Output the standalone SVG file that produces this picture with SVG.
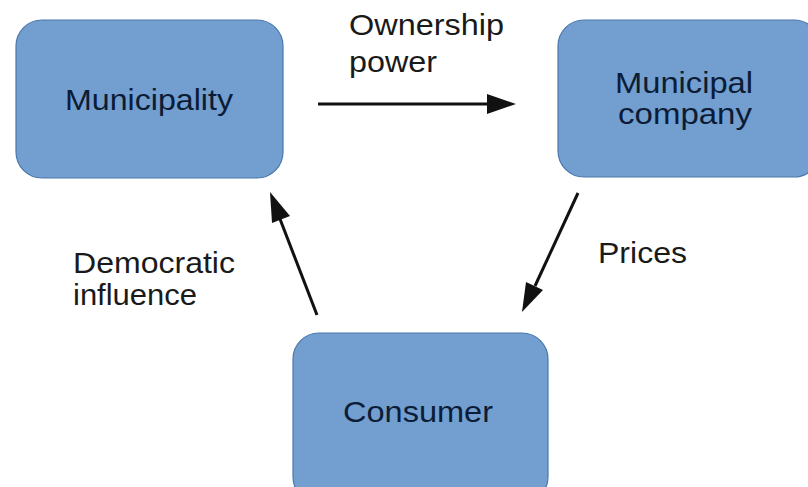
<svg xmlns="http://www.w3.org/2000/svg" width="808" height="487" viewBox="0 0 808 487">
<style>
.box{fill:#729fcf;stroke:#4a77ad;stroke-width:1.2}
.nt{font-family:"Liberation Sans",Arial,sans-serif;font-size:30px;fill:#0c1c36}
.lt{font-family:"Liberation Sans",Arial,sans-serif;font-size:29px;fill:#1a1a1a}
.conn{stroke:#111;stroke-width:3;fill:none}
</style>
<rect width="808" height="487" fill="#ffffff"/>
<g id="municipality">
<rect class="box" x="16" y="20" width="267" height="158" rx="26"/>
<text class="nt" x="65" y="110" textLength="168" lengthAdjust="spacingAndGlyphs">Municipality</text>
</g>
<g id="municipal-company">
<rect class="box" x="558" y="20" width="262" height="157" rx="26"/>
<text class="nt" x="615" y="93" textLength="138" lengthAdjust="spacingAndGlyphs">Municipal</text>
<text class="nt" x="618" y="124" textLength="134" lengthAdjust="spacingAndGlyphs">company</text>
</g>
<g id="consumer">
<rect class="box" x="293" y="333" width="255" height="170" rx="26"/>
<text class="nt" x="343" y="422" textLength="150" lengthAdjust="spacingAndGlyphs">Consumer</text>
</g>
<g id="connectors">
<path class="conn" d="M318,104 L490,104"/>
<path d="M487,94 L516,104 L487,114 z" fill="#111"/>
<path class="conn" d="M317,315 L280,219"/>
<path d="M270,192 L290,216 L272,223 z" fill="#111"/>
<path class="conn" d="M578,193 L535,286"/>
<path d="M522,312 L526,282 L543,290 z" fill="#111"/>
</g>
<g id="labels">
<text class="lt" x="349" y="35" textLength="155" lengthAdjust="spacingAndGlyphs">Ownership</text>
<text class="lt" x="349" y="72" textLength="88" lengthAdjust="spacingAndGlyphs">power</text>
<text class="lt" x="598" y="263" textLength="89" lengthAdjust="spacingAndGlyphs">Prices</text>
<text class="lt" x="73" y="273" textLength="162" lengthAdjust="spacingAndGlyphs">Democratic</text>
<text class="lt" x="73" y="305" textLength="124" lengthAdjust="spacingAndGlyphs">influence</text>
</g>
</svg>
